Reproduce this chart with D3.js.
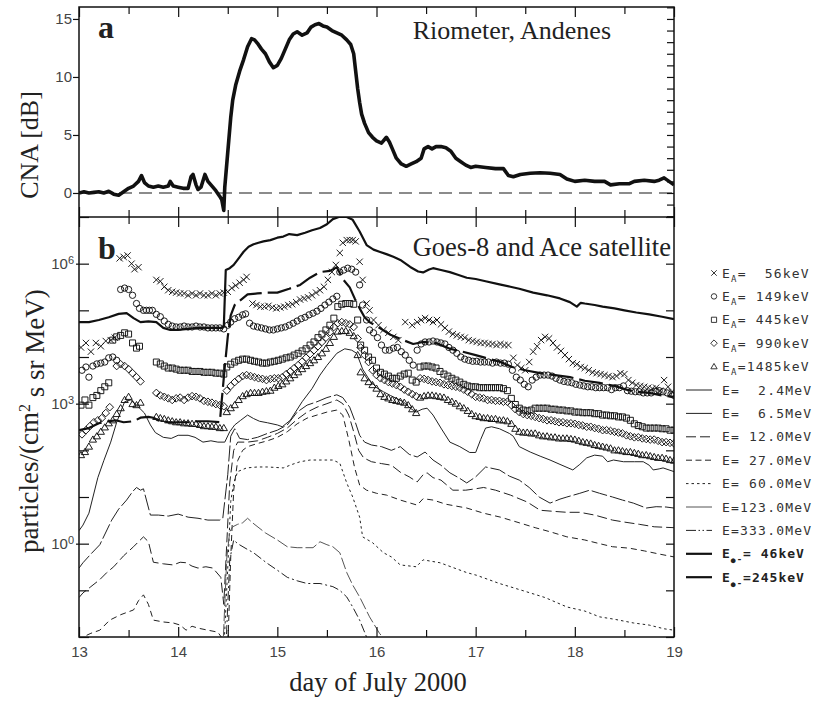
<!DOCTYPE html>
<html><head><meta charset="utf-8">
<script src="https://cdn.jsdelivr.net/npm/d3@7"></script>
<style>body{margin:0;background:#fff}text{white-space:pre}</style>
</head><body>
<svg id="c" width="817" height="706"></svg>
<script>
// ---------------- DATA ----------------
const dayTicks = [13, 14, 15, 16, 17, 18, 19];
const halfDayTicks = [13.5, 14.5, 15.5, 16.5, 17.5, 18.5];
const cnaTicks = [0, 5, 10, 15];
const cnaMinorTicks = [-2,-1,0,1,2,3,4,5,6,7,8,9,10,11,12,13,14,15,16];
const fluxLabelTicks = [1e0, 1e3, 1e6];
const fluxDecadeTicks = [1e-2,1e-1,1e0,1e1,1e2,1e3,1e4,1e5,1e6,1e7];

// Riometer CNA [dB], Andenes: [day, dB]
const cna = [[13.0,0.0],[13.05,0.1],[13.1,0.0],[13.15,0.05],[13.2,0.1],[13.25,0.0],[13.3,0.15],[13.35,-0.1],[13.4,-0.2],[13.45,0.1],[13.5,0.4],[13.55,0.6],[13.6,1.0],[13.63,1.5],[13.66,0.9],[13.7,0.6],[13.75,0.5],[13.8,0.6],[13.85,0.5],[13.9,0.6],[13.92,1.0],[13.95,0.6],[14.0,0.5],[14.05,0.4],[14.1,0.4],[14.13,1.4],[14.15,1.6],[14.18,0.7],[14.2,0.3],[14.23,0.5],[14.27,1.6],[14.3,1.0],[14.35,0.5],[14.38,0.2],[14.42,-0.3],[14.44,-0.6],[14.46,-1.5],[14.47,0.5],[14.49,2.5],[14.51,4.5],[14.53,6.5],[14.55,8.0],[14.58,9.3],[14.62,10.5],[14.66,11.5],[14.7,12.6],[14.74,13.3],[14.77,13.2],[14.8,12.9],[14.84,12.4],[14.88,12.0],[14.92,11.3],[14.96,10.8],[15.0,11.0],[15.04,11.6],[15.08,12.4],[15.12,13.2],[15.16,13.7],[15.2,13.9],[15.25,13.6],[15.3,13.8],[15.34,14.3],[15.38,14.5],[15.42,14.6],[15.46,14.4],[15.5,14.3],[15.55,14.0],[15.6,13.8],[15.65,13.6],[15.7,13.2],[15.74,12.8],[15.77,12.0],[15.79,10.5],[15.81,9.0],[15.83,7.8],[15.85,6.8],[15.88,6.0],[15.92,5.2],[15.96,4.8],[16.0,4.5],[16.05,4.3],[16.1,4.8],[16.13,4.4],[16.16,3.8],[16.2,3.0],[16.25,2.5],[16.3,2.3],[16.35,2.5],[16.4,2.7],[16.45,3.0],[16.48,3.8],[16.52,4.0],[16.56,3.8],[16.6,4.0],[16.65,4.0],[16.7,3.9],[16.75,3.6],[16.8,3.0],[16.85,2.7],[16.9,2.4],[16.95,2.2],[17.0,2.3],[17.1,2.2],[17.2,2.1],[17.28,2.1],[17.33,1.5],[17.38,1.4],[17.45,1.6],[17.55,1.7],[17.65,1.75],[17.75,1.7],[17.85,1.6],[17.92,1.2],[18.0,1.0],[18.1,1.1],[18.2,1.0],[18.3,1.0],[18.36,0.7],[18.45,0.8],[18.55,0.8],[18.6,1.0],[18.7,1.1],[18.8,1.0],[18.85,1.1],[18.9,1.3],[18.95,1.0],[19.0,0.7]];

// ACE ions, particles/(cm2 s sr MeV): [day, flux]
const ionA56 = [[13.02,1.6e4],[13.07,2.0e4],[13.12,1.3e4],[13.17,2.0e4],[13.22,1.7e4],[13.27,2.2e4],[13.32,2.3e4],[13.36,2.6e4],[13.41,1.3e6],[13.45,1.4e6],[13.49,1.5e6],[13.53,1.0e6],[13.56,7.6e5],[13.6,8.4e5],[13.78,4.5e5],[13.82,4.2e5],[13.86,3.2e5],[13.9,2.7e5],[13.94,2.5e5],[13.98,2.4e5],[14.02,2.3e5],[14.06,2.3e5],[14.1,2.1e5],[14.14,2.3e5],[14.18,2.1e5],[14.22,2.3e5],[14.26,2.1e5],[14.3,2.1e5],[14.34,2.3e5],[14.38,2.1e5],[14.42,2.3e5],[14.46,2.4e5],[14.5,2.5e5],[14.54,3.0e5],[14.58,3.4e5],[14.62,3.9e5],[14.66,4.5e5],[14.69,5.2e5],[14.75,1.4e5],[14.79,1.3e5],[14.83,1.2e5],[14.87,1.2e5],[14.91,1.25e5],[14.95,1.15e5],[14.99,1.1e5],[15.03,1.15e5],[15.07,1.2e5],[15.11,1.3e5],[15.15,1.35e5],[15.19,1.5e5],[15.23,1.7e5],[15.27,1.8e5],[15.31,1.9e5],[15.35,2.1e5],[15.39,2.4e5],[15.43,2.7e5],[15.47,3.2e5],[15.51,4.5e5],[15.55,6.6e5],[15.59,9.4e5],[15.63,1.7e6],[15.66,2.8e6],[15.7,3.2e6],[15.73,3.2e6],[15.76,3.2e6],[15.79,3.0e6],[15.83,1.1e6],[15.86,4.5e5],[15.9,1.4e5],[15.93,1.0e5],[15.97,6.2e4],[16.02,4.8e4],[16.07,3.8e4],[16.12,3.3e4],[16.17,2.7e4],[16.22,2.3e4],[16.29,5.6e4],[16.36,4.8e4],[16.41,5.6e4],[16.45,6.2e4],[16.49,6.8e4],[16.53,6.2e4],[16.57,5.6e4],[16.61,6.2e4],[16.65,5.0e4],[16.69,4.2e4],[16.73,3.5e4],[16.77,3.1e4],[16.81,2.9e4],[16.85,2.7e4],[16.89,2.6e4],[16.93,2.3e4],[16.97,2.2e4],[17.01,2.1e4],[17.05,2.0e4],[17.09,2.0e4],[17.13,1.9e4],[17.17,1.9e4],[17.21,1.8e4],[17.25,1.9e4],[17.29,1.8e4],[17.33,1.8e4],[17.38,9.6e3],[17.42,6.7e3],[17.46,5.8e3],[17.5,5.2e3],[17.54,7.8e3],[17.58,1.3e4],[17.62,1.7e4],[17.66,2.3e4],[17.7,2.7e4],[17.74,2.5e4],[17.78,2.0e4],[17.82,1.6e4],[17.86,1.35e4],[17.9,1.1e4],[17.94,9.0e3],[17.98,7.4e3],[18.02,7.0e3],[18.06,6.1e3],[18.1,5.8e3],[18.14,5.2e3],[18.18,4.7e3],[18.22,4.5e3],[18.26,4.3e3],[18.3,4.1e3],[18.34,3.9e3],[18.38,3.7e3],[18.42,3.9e3],[18.46,4.5e3],[18.5,4.3e3],[18.54,3.2e3],[18.58,2.8e3],[18.62,2.5e3],[18.66,2.4e3],[18.7,2.3e3],[18.74,2.2e3],[18.78,2.1e3],[18.82,2.2e3],[18.86,1.9e3],[18.9,3.2e3],[18.94,2.3e3],[18.98,1.8e3]];

const ionA149 = [[13.03,5.2e3],[13.07,6.1e3],[13.1,3.7e3],[13.14,6.4e3],[13.18,7.1e3],[13.22,7.4e3],[13.26,7.8e3],[13.3,9.6e3],[13.34,1.0e4],[13.38,8.5e3],[13.42,2.8e5],[13.46,3.0e5],[13.5,2.8e5],[13.54,2.1e5],[13.58,1.4e5],[13.61,1.1e5],[13.65,1.0e5],[13.68,1.0e5],[13.71,1.0e5],[13.74,1.0e5],[13.78,8.2e4],[13.82,7.3e4],[13.86,5.9e4],[13.9,5.0e4],[13.94,4.6e4],[13.98,4.4e4],[14.02,4.4e4],[14.06,4.6e4],[14.1,4.4e4],[14.14,4.4e4],[14.18,4.6e4],[14.22,4.4e4],[14.26,4.4e4],[14.3,4.2e4],[14.34,4.2e4],[14.38,4.2e4],[14.42,4.2e4],[14.46,4.0e4],[14.5,4.8e4],[14.53,5.6e4],[14.57,6.6e4],[14.61,7.1e4],[14.65,8.0e4],[14.68,8.4e4],[14.72,5.3e4],[14.76,4.6e4],[14.8,4.4e4],[14.84,4.2e4],[14.88,4.0e4],[14.92,3.8e4],[14.96,3.8e4],[15.0,4.0e4],[15.04,4.2e4],[15.08,4.4e4],[15.12,4.8e4],[15.16,5.3e4],[15.2,5.9e4],[15.24,6.6e4],[15.28,7.1e4],[15.32,8.0e4],[15.36,8.7e4],[15.4,9.6e4],[15.44,1.1e5],[15.48,1.3e5],[15.52,1.5e5],[15.56,1.75e5],[15.6,2.0e5],[15.63,6.6e5],[15.67,7.3e5],[15.71,8.0e5],[15.75,7.6e5],[15.79,6.6e5],[15.83,3.5e5],[15.86,1.3e5],[15.9,6.2e4],[15.93,3.8e4],[15.97,3.3e4],[16.01,2.6e4],[16.05,1.8e4],[16.09,1.4e4],[16.13,1.4e4],[16.17,1.55e4],[16.21,1.6e4],[16.25,1.3e4],[16.29,1.1e4],[16.33,8.5e3],[16.37,6.7e3],[16.41,1.4e4],[16.45,1.9e4],[16.49,2.1e4],[16.53,2.1e4],[16.57,2.2e4],[16.61,2.1e4],[16.65,2.0e4],[16.69,1.9e4],[16.73,1.6e4],[16.77,1.4e4],[16.81,1.2e4],[16.85,1.0e4],[16.89,9.0e3],[16.93,8.5e3],[16.97,8.1e3],[17.01,8.1e3],[17.05,7.8e3],[17.09,7.8e3],[17.13,7.8e3],[17.17,7.4e3],[17.21,7.8e3],[17.25,7.4e3],[17.29,7.4e3],[17.33,7.0e3],[17.37,5.2e3],[17.41,3.7e3],[17.45,3.2e3],[17.49,2.6e3],[17.53,2.3e3],[17.57,3.2e3],[17.61,3.7e3],[17.65,4.1e3],[17.69,4.1e3],[17.73,4.1e3],[17.77,3.9e3],[17.81,3.5e3],[17.85,3.2e3],[17.89,3.0e3],[17.93,2.9e3],[17.97,2.8e3],[18.01,2.6e3],[18.05,2.5e3],[18.09,2.4e3],[18.13,2.3e3],[18.17,2.3e3],[18.21,2.2e3],[18.25,2.2e3],[18.29,2.2e3],[18.33,2.2e3],[18.37,2.0e3],[18.41,2.2e3],[18.45,2.2e3],[18.49,2.4e3],[18.53,1.9e3],[18.57,1.85e3],[18.61,1.8e3],[18.65,1.8e3],[18.69,1.7e3],[18.73,1.7e3],[18.77,1.7e3],[18.81,1.85e3],[18.85,1.9e3],[18.89,1.8e3],[18.93,1.7e3],[18.97,1.6e3],[19.0,1.5e3]];

const ionA445 = [[13.02,9.3e2],[13.06,1.2e3],[13.1,9.3e2],[13.14,1.35e3],[13.18,1.5e3],[13.22,1.9e3],[13.26,2.3e3],[13.3,2.8e3],[13.34,2.3e4],[13.38,2.7e4],[13.42,2.9e4],[13.46,3.3e4],[13.5,3.1e4],[13.54,2.0e4],[13.58,1.55e4],[13.61,1.7e4],[13.78,7.8e3],[13.82,7.1e3],[13.86,6.4e3],[13.9,5.8e3],[13.94,5.8e3],[13.98,5.5e3],[14.02,5.2e3],[14.06,5.2e3],[14.1,5.2e3],[14.14,4.9e3],[14.18,4.9e3],[14.22,4.9e3],[14.26,4.7e3],[14.3,4.7e3],[14.34,4.7e3],[14.38,4.5e3],[14.42,4.5e3],[14.46,4.3e3],[14.49,6.1e3],[14.53,7.0e3],[14.57,7.8e3],[14.61,8.5e3],[14.65,9.0e3],[14.69,9.0e3],[14.73,8.5e3],[14.77,8.1e3],[14.81,7.8e3],[14.85,7.4e3],[14.89,7.4e3],[14.93,7.8e3],[14.97,8.1e3],[15.01,8.5e3],[15.05,9.0e3],[15.09,9.6e3],[15.13,1.0e4],[15.17,1.1e4],[15.21,1.2e4],[15.25,1.35e4],[15.29,1.5e4],[15.33,1.8e4],[15.37,2.1e4],[15.41,2.6e4],[15.45,3.1e4],[15.49,3.8e4],[15.53,4.8e4],[15.57,6.8e4],[15.61,1.2e5],[15.65,1.35e5],[15.69,1.4e5],[15.73,1.4e5],[15.77,1.35e5],[15.81,6.2e4],[15.84,1.8e4],[15.88,1.4e4],[15.92,1.0e4],[15.96,8.5e3],[16.0,5.8e3],[16.04,4.7e3],[16.08,4.3e3],[16.12,3.9e3],[16.16,3.5e3],[16.2,3.5e3],[16.24,3.9e3],[16.28,4.3e3],[16.32,4.5e3],[16.36,3.2e3],[16.4,2.9e3],[16.44,6.1e3],[16.48,6.4e3],[16.52,6.4e3],[16.56,6.1e3],[16.6,5.8e3],[16.64,4.9e3],[16.68,4.3e3],[16.72,3.9e3],[16.76,3.5e3],[16.8,3.2e3],[16.84,2.9e3],[16.88,2.6e3],[16.92,2.4e3],[16.96,2.3e3],[17.0,2.3e3],[17.04,2.2e3],[17.08,2.2e3],[17.12,2.2e3],[17.16,2.2e3],[17.2,2.2e3],[17.24,2.2e3],[17.28,2.1e3],[17.32,1.9e3],[17.36,1.3e3],[17.4,9.6e2],[17.44,8.0e2],[17.48,7.3e2],[17.52,7.0e2],[17.56,7.3e2],[17.6,8.0e2],[17.64,8.0e2],[17.68,8.0e2],[17.72,8.0e2],[17.76,7.6e2],[17.8,7.6e2],[17.84,7.3e2],[17.88,7.3e2],[17.92,7.0e2],[17.96,7.0e2],[18.0,6.6e2],[18.04,6.6e2],[18.08,6.4e2],[18.12,6.4e2],[18.16,6.4e2],[18.2,6.1e2],[18.24,6.1e2],[18.28,5.7e2],[18.32,5.7e2],[18.36,5.5e2],[18.4,5.5e2],[18.44,5.2e2],[18.48,5.2e2],[18.52,4.9e2],[18.56,4.4e2],[18.6,3.7e2],[18.64,3.4e2],[18.68,3.2e2],[18.72,3.0e2],[18.76,3.0e2],[18.8,3.0e2],[18.84,3.0e2],[18.88,2.9e2],[18.92,2.9e2],[18.96,2.7e2],[19.0,2.7e2]];

const ionA990 = [[13.03,2.2e2],[13.07,2.7e2],[13.11,3.3e2],[13.15,4.0e2],[13.19,4.4e2],[13.23,4.9e2],[13.27,6.3e2],[13.31,8.4e2],[13.38,6.4e3],[13.42,7.0e3],[13.46,6.4e3],[13.5,5.5e3],[13.54,4.5e3],[13.58,3.7e3],[13.62,3.0e3],[13.78,1.7e3],[13.82,1.5e3],[13.86,1.4e3],[13.9,1.3e3],[13.94,1.2e3],[13.98,1.3e3],[14.02,1.35e3],[14.06,1.2e3],[14.1,1.35e3],[14.14,1.45e3],[14.18,1.4e3],[14.22,1.3e3],[14.26,1.15e3],[14.3,1.1e3],[14.34,1.05e3],[14.38,9.8e2],[14.42,9.3e2],[14.46,8.8e2],[14.49,1.9e3],[14.53,2.4e3],[14.57,2.9e3],[14.61,3.4e3],[14.65,3.9e3],[14.69,4.1e3],[14.73,3.9e3],[14.77,3.7e3],[14.81,3.5e3],[14.85,3.4e3],[14.89,3.2e3],[14.93,3.4e3],[14.97,3.5e3],[15.01,3.5e3],[15.05,3.7e3],[15.09,4.3e3],[15.13,4.9e3],[15.17,5.8e3],[15.21,6.7e3],[15.25,8.0e3],[15.29,9.6e3],[15.33,1.15e4],[15.37,1.4e4],[15.41,1.7e4],[15.45,2.1e4],[15.49,2.6e4],[15.53,3.4e4],[15.57,4.4e4],[15.61,5.3e4],[15.65,5.6e4],[15.69,5.3e4],[15.73,5.0e4],[15.77,4.4e4],[15.81,2.5e4],[15.84,1.6e4],[15.88,1.1e4],[15.92,7.8e3],[15.96,5.2e3],[16.0,4.1e3],[16.04,3.5e3],[16.08,3.2e3],[16.12,2.9e3],[16.16,2.7e3],[16.2,2.5e3],[16.24,2.3e3],[16.28,2.0e3],[16.32,1.8e3],[16.36,1.6e3],[16.4,1.45e3],[16.44,3.5e3],[16.48,3.4e3],[16.52,3.2e3],[16.56,3.0e3],[16.6,2.9e3],[16.64,2.8e3],[16.68,2.6e3],[16.72,2.5e3],[16.76,2.4e3],[16.8,2.3e3],[16.84,2.2e3],[16.88,2.0e3],[16.92,1.8e3],[16.96,1.6e3],[17.0,1.4e3],[17.04,1.35e3],[17.08,1.3e3],[17.12,1.2e3],[17.16,1.2e3],[17.2,1.15e3],[17.24,1.15e3],[17.28,1.1e3],[17.32,1.1e3],[17.36,9.3e2],[17.4,7.6e2],[17.44,6.6e2],[17.48,6.0e2],[17.52,5.7e2],[17.56,5.5e2],[17.6,5.2e2],[17.64,4.9e2],[17.68,4.7e2],[17.72,4.4e2],[17.76,4.4e2],[17.8,4.2e2],[17.84,4.0e2],[17.88,4.0e2],[17.92,3.8e2],[17.96,3.8e2],[18.0,3.7e2],[18.04,3.5e2],[18.08,3.4e2],[18.12,3.2e2],[18.16,3.2e2],[18.2,3.0e2],[18.24,2.9e2],[18.28,2.7e2],[18.32,2.7e2],[18.36,2.6e2],[18.4,2.5e2],[18.44,2.4e2],[18.48,2.3e2],[18.52,2.1e2],[18.56,2.0e2],[18.6,1.9e2],[18.64,1.9e2],[18.68,1.8e2],[18.72,1.75e2],[18.76,1.7e2],[18.8,1.7e2],[18.84,1.6e2],[18.88,1.5e2],[18.92,1.5e2],[18.96,1.45e2],[19.0,1.4e2]];

const ionA1485 = [[13.02,7.9e1],[13.06,9.2e1],[13.1,1.2e2],[13.14,1.7e2],[13.18,2.0e2],[13.22,2.5e2],[13.26,3.1e2],[13.3,3.8e2],[13.34,4.4e2],[13.38,6.0e2],[13.42,8.0e2],[13.46,1.2e3],[13.5,1.4e3],[13.54,9.8e2],[13.58,9.3e2],[13.62,1.05e3],[13.78,5.2e2],[13.82,4.9e2],[13.86,4.7e2],[13.9,4.4e2],[13.94,4.2e2],[13.98,4.0e2],[14.02,4.0e2],[14.06,3.8e2],[14.1,3.8e2],[14.14,3.7e2],[14.18,3.7e2],[14.22,3.5e2],[14.26,3.3e2],[14.3,3.3e2],[14.34,3.2e2],[14.38,3.2e2],[14.42,3.0e2],[14.46,3.0e2],[14.49,6.6e2],[14.53,8.0e2],[14.57,9.3e2],[14.61,1.2e3],[14.65,1.45e3],[14.69,1.6e3],[14.73,1.7e3],[14.77,1.7e3],[14.81,1.7e3],[14.85,1.8e3],[14.89,1.85e3],[14.93,1.9e3],[14.97,2.2e3],[15.01,2.4e3],[15.05,2.6e3],[15.09,3.0e3],[15.13,3.5e3],[15.17,4.1e3],[15.21,4.7e3],[15.25,5.5e3],[15.29,6.4e3],[15.33,7.4e3],[15.37,8.5e3],[15.41,1.0e4],[15.45,1.2e4],[15.49,1.5e4],[15.53,2.0e4],[15.57,2.7e4],[15.61,3.5e4],[15.65,3.6e4],[15.69,3.6e4],[15.73,3.3e4],[15.77,2.8e4],[15.81,1.1e4],[15.84,4.7e3],[15.88,3.5e3],[15.92,2.9e3],[15.96,2.5e3],[16.0,2.1e3],[16.04,1.6e3],[16.08,1.4e3],[16.12,1.3e3],[16.16,1.2e3],[16.2,1.15e3],[16.24,1.1e3],[16.28,1.05e3],[16.32,9.3e2],[16.36,7.6e2],[16.4,6.3e2],[16.44,1.35e3],[16.48,1.45e3],[16.52,1.5e3],[16.56,1.5e3],[16.6,1.45e3],[16.64,1.4e3],[16.68,1.35e3],[16.72,1.2e3],[16.76,1.1e3],[16.8,1.0e3],[16.84,8.8e2],[16.88,8.0e2],[16.92,7.0e2],[16.96,6.0e2],[17.0,5.4e2],[17.04,5.2e2],[17.08,4.9e2],[17.12,4.9e2],[17.16,4.7e2],[17.2,4.7e2],[17.24,4.4e2],[17.28,4.4e2],[17.32,4.2e2],[17.36,3.7e2],[17.4,2.9e2],[17.44,2.5e2],[17.48,2.4e2],[17.52,2.4e2],[17.56,2.3e2],[17.6,2.3e2],[17.64,2.1e2],[17.68,2.0e2],[17.72,2.0e2],[17.76,1.9e2],[17.8,1.9e2],[17.84,1.8e2],[17.88,1.8e2],[17.92,1.8e2],[17.96,1.75e2],[18.0,1.7e2],[18.04,1.6e2],[18.08,1.5e2],[18.12,1.45e2],[18.16,1.4e2],[18.2,1.3e2],[18.24,1.25e2],[18.28,1.2e2],[18.32,1.15e2],[18.36,1.1e2],[18.4,1.0e2],[18.44,1.0e2],[18.48,9.6e1],[18.52,9.2e1],[18.56,9.2e1],[18.6,8.8e1],[18.64,8.4e1],[18.68,7.9e1],[18.72,7.9e1],[18.76,7.5e1],[18.8,7.2e1],[18.84,6.9e1],[18.88,6.9e1],[18.92,6.6e1],[18.96,6.2e1],[19.0,6.0e1]];

// GOES-8 protons
const protE2_4 = [[13.0,1.9],[13.04,2.5],[13.1,4.5],[13.19,2.6e1],[13.25,6.0e1],[13.32,1.5e2],[13.38,4.0e2],[13.46,1.1e3],[13.52,1.2e3],[13.58,9.3e2],[13.66,6.3e2],[13.72,3.5e2],[13.77,2.4e2],[13.85,1.9e2],[13.93,1.8e2],[14.0,2.1e2],[14.1,2.1e2],[14.17,1.9e2],[14.25,1.5e2],[14.33,1.6e2],[14.4,1.5e2],[14.47,1.5e2],[14.52,2.5e2],[14.57,3.5e2],[14.63,4.4e2],[14.7,5.7e2],[14.76,4.8e2],[14.82,4.2e2],[14.9,3.9e2],[15.0,3.5e2],[15.05,3.2e2],[15.13,4.4e2],[15.25,1.1e3],[15.35,2.1e3],[15.43,4.1e3],[15.5,6.6e3],[15.6,1.2e4],[15.68,1.5e4],[15.75,1.4e4],[15.8,1.2e4],[15.86,5.5e3],[15.93,3.2e3],[16.0,2.2e3],[16.07,1.8e3],[16.14,1.5e3],[16.2,1.3e3],[16.27,1.1e3],[16.34,8.0e2],[16.4,6.6e2],[16.46,7.6e2],[16.51,8.0e2],[16.57,5.7e2],[16.65,3.0e2],[16.74,1.5e2],[16.84,1.2e2],[16.94,9.0e1],[17.0,9.0e1],[17.05,1.7e2],[17.1,3.0e2],[17.16,3.2e2],[17.24,2.9e2],[17.34,2.3e2],[17.38,2.0e2],[17.44,1.2e2],[17.55,9.2e1],[17.65,7.5e1],[17.75,6.2e1],[17.85,5.0e1],[17.98,3.8e1],[18.05,5.0e1],[18.12,6.9e1],[18.2,7.9e1],[18.28,7.5e1],[18.33,5.7e1],[18.39,6.2e1],[18.49,5.7e1],[18.6,5.7e1],[18.69,5.7e1],[18.75,4.8e1],[18.79,3.8e1],[18.85,4.0e1],[18.89,4.2e1],[18.95,3.8e1],[19.0,3.5e1]];

const protE6_5 = [[13.0,0.3],[13.04,0.39],[13.12,0.6],[13.21,0.95],[13.33,3.2],[13.4,5.5],[13.48,8.6],[13.54,1.3e1],[13.58,1.6e1],[13.62,1.4e1],[13.65,1.5e1],[13.72,4.1],[13.8,4.1],[13.9,3.9],[14.0,4.3],[14.1,3.7],[14.2,3.5],[14.3,3.2],[14.42,3.2],[14.45,3.5],[14.5,3.0e1],[14.53,2.0e2],[14.57,2.9e2],[14.62,1.8e2],[14.7,1.7e2],[14.8,1.9e2],[14.9,2.3e2],[15.0,2.7e2],[15.1,3.5e2],[15.2,6.6e2],[15.3,9.3e2],[15.4,1.1e3],[15.5,1.35e3],[15.6,1.55e3],[15.66,1.35e3],[15.73,8.4e2],[15.78,4.4e2],[15.83,2.1e2],[15.88,1.5e2],[15.95,1.3e2],[16.05,1.2e2],[16.15,1.0e2],[16.24,1.2e2],[16.33,8.2e1],[16.41,7.2e1],[16.49,9.2e1],[16.57,6.2e1],[16.65,4.8e1],[16.74,3.3e1],[16.84,2.5e1],[16.91,2.0e1],[17.0,2.7e1],[17.1,4.4e1],[17.24,3.8e1],[17.34,2.8e1],[17.44,2.3e1],[17.54,1.6e1],[17.64,1.0e1],[17.75,7.4],[17.85,9.0],[17.92,1.0e1],[18.05,1.2e1],[18.15,1.4e1],[18.25,1.2e1],[18.38,1.0e1],[18.48,8.6],[18.59,7.4],[18.72,5.8],[18.82,6.2],[18.92,6.1],[19.0,5.8]];

const protE12 = [[13.0,0.07],[13.04,0.088],[13.12,0.12],[13.21,0.17],[13.28,0.24],[13.35,0.32],[13.45,0.55],[13.55,0.86],[13.6,1.1],[13.65,1.4],[13.7,1.1],[13.75,0.4],[13.85,0.37],[13.95,0.35],[14.02,0.4],[14.08,0.39],[14.14,0.33],[14.2,0.3],[14.28,0.32],[14.35,0.3],[14.43,0.19],[14.46,0.05],[14.49,1.0],[14.52,2.0e1],[14.56,1.0e2],[14.6,1.5e2],[14.7,1.5e2],[14.8,1.6e2],[14.9,1.9e2],[15.0,2.3e2],[15.1,3.0e2],[15.2,4.6e2],[15.3,6.6e2],[15.4,8.4e2],[15.5,1.0e3],[15.6,1.2e3],[15.66,1.0e3],[15.72,5.7e2],[15.77,2.5e2],[15.82,1.0e2],[15.87,6.9e1],[15.95,5.7e1],[16.05,5.2e1],[16.15,4.8e1],[16.24,3.4e1],[16.33,2.7e1],[16.41,2.1e1],[16.47,3.0e1],[16.51,3.3e1],[16.57,2.6e1],[16.65,2.3e1],[16.77,1.4e1],[16.9,1.4e1],[17.0,1.5e1],[17.08,1.6e1],[17.2,1.4e1],[17.35,1.1e1],[17.52,7.8],[17.65,5.2],[17.8,4.9],[17.92,4.7],[18.05,4.7],[18.2,4.1],[18.38,3.2],[18.5,2.9],[18.65,2.6],[18.8,2.3],[19.0,2.2]];

const protE27 = [[13.0,0.008],[13.04,0.01],[13.12,0.012],[13.21,0.014],[13.31,0.023],[13.42,0.03],[13.55,0.038],[13.6,0.06],[13.65,0.08],[13.7,0.05],[13.75,0.023],[13.85,0.021],[13.95,0.02],[14.02,0.018],[14.08,0.014],[14.14,0.017],[14.2,0.0155],[14.3,0.014],[14.4,0.0127],[14.45,0.009],[14.5,0.005],[14.53,0.5],[14.56,1.4e1],[14.6,6.0e1],[14.65,1.0e2],[14.7,1.2e2],[14.8,1.4e2],[14.9,1.6e2],[15.0,1.9e2],[15.1,2.5e2],[15.2,3.7e2],[15.3,4.9e2],[15.4,5.7e2],[15.5,6.6e2],[15.6,7.3e2],[15.66,5.7e2],[15.72,1.7e2],[15.78,4.2e1],[15.83,1.8e1],[15.9,1.4e1],[16.0,1.2e1],[16.1,1.1e1],[16.24,8.6],[16.41,6.7],[16.47,9.2],[16.57,8.6],[16.7,7.0],[16.91,5.8],[17.08,4.5],[17.25,3.7],[17.44,2.8],[17.6,2.2],[17.75,1.8],[17.92,1.4],[18.1,1.2],[18.25,1.0],[18.38,0.86],[18.55,0.8],[18.7,0.7],[18.85,0.6],[19.0,0.52]];

const protE60 = [[14.46,0.005],[14.5,0.3],[14.53,8.0],[14.56,2.0e1],[14.6,3.5e1],[14.69,4.2e1],[14.8,4.4e1],[14.9,4.4e1],[15.06,4.2e1],[15.15,5.0e1],[15.23,5.7e1],[15.33,6.2e1],[15.43,6.2e1],[15.5,6.2e1],[15.56,6.2e1],[15.63,5.3e1],[15.7,2.0e1],[15.76,1.0e1],[15.83,3.7],[15.86,1.4],[15.96,1.05],[16.07,0.64],[16.15,0.52],[16.24,0.35],[16.4,0.32],[16.47,0.45],[16.64,0.39],[16.91,0.24],[17.01,0.21],[17.24,0.14],[17.5,0.095],[17.7,0.07],[17.92,0.044],[18.1,0.036],[18.25,0.027],[18.4,0.024],[18.59,0.02],[18.75,0.018],[18.9,0.015],[19.0,0.014]];

const protE123 = [[14.45,0.005],[14.49,0.5],[14.52,1.8],[14.55,2.3],[14.6,2.6],[14.65,2.8],[14.7,3.5],[14.75,2.8],[14.88,1.7],[15.0,1.2],[15.1,0.86],[15.2,0.82],[15.36,0.82],[15.43,1.1],[15.5,0.95],[15.56,0.86],[15.63,0.64],[15.7,0.24],[15.76,0.13],[15.83,0.072],[15.93,0.027],[16.03,0.012],[16.1,0.008]];

const protE333 = [[14.48,0.005],[14.52,0.45],[14.56,1.2],[14.6,1.0],[14.7,0.75],[14.76,0.64],[14.89,0.39],[15.0,0.27],[15.1,0.19],[15.2,0.16],[15.3,0.14],[15.43,0.14],[15.56,0.12],[15.63,0.1],[15.7,0.072],[15.76,0.044],[15.83,0.023],[15.9,0.010],[15.95,0.007]];

// ACE electrons
const elec46 = [[13.0,5.6e4],[13.1,5.6e4],[13.2,6.2e4],[13.3,7.1e4],[13.4,8.4e4],[13.48,8.7e4],[13.55,6.8e4],[13.62,5.6e4],[13.7,5.8e4],[13.78,5.6e4],[13.85,4.2e4],[13.92,3.8e4],[14.0,3.8e4],[14.1,4.0e4],[14.2,4.2e4],[14.3,4.2e4],[14.44,4.2e4],[14.46,4.4e4],[14.48,7.3e5],[14.52,8.0e5],[14.56,9.4e5],[14.61,1.3e6],[14.66,1.8e6],[14.71,2.3e6],[14.76,2.6e6],[14.81,2.8e6],[14.86,3.0e6],[14.93,3.2e6],[15.0,3.6e6],[15.06,3.8e6],[15.12,4.3e6],[15.2,4.1e6],[15.28,4.6e6],[15.35,5.2e6],[15.43,5.8e6],[15.5,7.0e6],[15.56,9.0e6],[15.62,1.0e7],[15.7,1.0e7],[15.76,8.7e6],[15.83,4.9e6],[15.9,2.5e6],[15.97,2.0e6],[16.03,1.8e6],[16.1,1.6e6],[16.17,1.4e6],[16.24,1.2e6],[16.34,8.5e5],[16.42,6.8e5],[16.47,6.5e5],[16.53,7.5e5],[16.57,8.0e5],[16.65,7.3e5],[16.74,6.6e5],[16.82,5.8e5],[16.91,5.0e5],[17.0,4.7e5],[17.1,4.2e5],[17.24,3.6e5],[17.35,3.2e5],[17.44,2.9e5],[17.58,2.4e5],[17.72,2.1e5],[17.85,1.8e5],[17.95,1.5e5],[18.02,1.2e5],[18.06,1.45e5],[18.1,1.4e5],[18.2,1.3e5],[18.28,1.2e5],[18.4,1.1e5],[18.5,1.0e5],[18.62,9.0e4],[18.75,8.2e4],[18.88,7.3e4],[19.0,6.5e4]];

const elec245 = [[13.0,2.7e2],[13.1,3.0e2],[13.2,3.8e2],[13.3,4.2e2],[13.37,4.4e2],[13.45,4.0e2],[13.55,4.2e2],[13.62,5.0e2],[13.7,5.2e2],[13.75,5.0e2],[13.8,4.4e2],[13.9,4.0e2],[14.0,4.0e2],[14.1,4.0e2],[14.2,4.2e2],[14.3,4.2e2],[14.42,4.0e2],[14.44,1.2e3],[14.47,6.1e3],[14.5,2.7e4],[14.53,7.8e4],[14.57,1.3e5],[14.62,1.6e5],[14.7,2.2e5],[14.8,2.3e5],[14.9,2.4e5],[15.0,2.4e5],[15.12,2.9e5],[15.23,3.5e5],[15.33,5.0e5],[15.43,6.6e5],[15.53,7.0e5],[15.6,8.4e5],[15.66,4.7e5],[15.73,3.1e5],[15.78,1.8e5],[15.83,1.1e5],[15.88,7.1e4],[15.93,5.6e4],[16.03,4.2e4],[16.14,3.0e4],[16.27,2.3e4],[16.37,1.9e4],[16.47,2.1e4],[16.6,2.0e4],[16.74,1.5e4],[16.87,1.3e4],[17.0,1.1e4],[17.1,9.6e3],[17.25,7.8e3],[17.37,6.1e3],[17.5,5.2e3],[17.65,4.5e3],[17.8,4.1e3],[17.95,3.7e3],[18.1,3.1e3],[18.25,2.8e3],[18.4,2.4e3],[18.52,2.0e3],[18.62,1.8e3],[18.75,1.7e3],[18.88,1.5e3],[19.0,1.4e3]];

// legend labels
const ionLabels = ['=  56keV', '= 149keV', '= 445keV', '= 990keV', '=1485keV'];
const protLabels = ['E=  2.4MeV', 'E=  6.5MeV', 'E= 12.0MeV', 'E= 27.0MeV', 'E= 60.0MeV', 'E=123.0MeV', 'E=333.0MeV'];
const elecLabels = ['= 46keV', '=245keV'];

// ---------------- DRAWING ----------------
const L = 79, R = 674, TA = 7, MID = 217, BB = 637;
const svg = d3.select('#c');
const x = d3.scaleLinear().domain([13, 19]).range([L, R]);
const ya = d3.scaleLinear().domain([-2.07, 16.03]).range([MID, TA]);
const yb = d3.scaleLog().domain([1e-2, 1e7]).range([BB, MID]);

const defs = svg.append('defs');
defs.append('clipPath').attr('id', 'ca').append('rect').attr('x', L).attr('y', TA).attr('width', R - L).attr('height', MID - TA);
defs.append('clipPath').attr('id', 'cb').append('rect').attr('x', L).attr('y', MID).attr('width', R - L).attr('height', BB - MID);

// symbol types
const symTimes = {draw(c, s) {const a = Math.sqrt(s) / 2; c.moveTo(-a, -a); c.lineTo(a, a); c.moveTo(-a, a); c.lineTo(a, -a);}};
const symCirc = {draw(c, s) {const r = Math.sqrt(s) / 2; c.moveTo(r, 0); c.arc(0, 0, r, 0, 2 * Math.PI);}};
const symSq = {draw(c, s) {const a = Math.sqrt(s) / 2 * 0.95; c.moveTo(-a, -a); c.lineTo(a, -a); c.lineTo(a, a); c.lineTo(-a, a); c.closePath();}};
const symDia = {draw(c, s) {const a = Math.sqrt(s) / 2 * 1.2; c.moveTo(0, -a); c.lineTo(a, 0); c.lineTo(0, a); c.lineTo(-a, 0); c.closePath();}};
const symTri = {draw(c, s) {const a = Math.sqrt(s) / 2 * 1.15; c.moveTo(0, -a); c.lineTo(a, a * 0.7); c.lineTo(-a, a * 0.7); c.closePath();}};

const ionSeries = [
  {data: ionA56, sym: symTimes}, {data: ionA149, sym: symCirc}, {data: ionA445, sym: symSq},
  {data: ionA990, sym: symDia}, {data: ionA1485, sym: symTri}];
const protSeries = [
  {data: protE2_4, dash: null, w: 1.0, c: '#222', leg: null},
  {data: protE6_5, dash: '16,3', w: 1.0, c: '#222', leg: null},
  {data: protE12, dash: '10,4', w: 1.0, c: '#222', leg: '10,4'},
  {data: protE27, dash: '6,4', w: 1.0, c: '#222', leg: '6,3.5'},
  {data: protE60, dash: '2.5,3', w: 1.0, c: '#222', leg: '2.5,3'},
  {data: protE123, dash: '12,3', w: 1.0, c: '#555', leg: null},
  {data: protE333, dash: '9,3,2,3', w: 1.0, c: '#222', leg: '10,2.5,1.5,2.5,1.5,2.5'}];
const elecSeries = [
  {data: elec46, dash: null, w: 2.2, c: '#111'},
  {data: elec245, dash: '24,6', w: 2.2, c: '#111'}];

// Panel a
const pa = svg.append('g').attr('clip-path', 'url(#ca)');
pa.append('line').attr('x1', x(13)).attr('x2', x(19)).attr('y1', ya(0)).attr('y2', ya(0))
  .attr('stroke', '#666').attr('stroke-width', 1.3).attr('stroke-dasharray', '13,7');
pa.append('path').datum(cna)
  .attr('d', d3.line().x(d => x(d[0])).y(d => ya(d[1])))
  .attr('fill', 'none').attr('stroke', '#111').attr('stroke-width', 3.6).attr('stroke-linejoin', 'round');

// Panel b
const pb = svg.append('g').attr('clip-path', 'url(#cb)');
const lineB = d3.line().x(d => x(d[0])).y(d => yb(d[1]));
protSeries.concat(elecSeries).forEach(s => {
  pb.append('path').datum(s.data).attr('d', lineB).attr('fill', 'none')
    .attr('stroke', s.c).attr('stroke-width', s.w).attr('stroke-dasharray', s.dash)
    .attr('stroke-linejoin', 'round');
});
ionSeries.forEach(s => {
  const gen = d3.symbol().type(s.sym).size(40);
  pb.append('g').selectAll('path').data(s.data).join('path')
    .attr('transform', d => `translate(${x(d[0])},${yb(d[1])})`)
    .attr('d', gen).attr('fill', 'none').attr('stroke', '#111').attr('stroke-width', 0.95);
});

// Axes
function styleAxis(g) {
  g.select('.domain').remove();
  g.selectAll('line').attr('stroke', '#111').attr('stroke-width', 1.2);
  g.selectAll('text').attr('fill', '#444').attr('font-family', 'Liberation Sans, Arial, sans-serif').attr('font-size', 15);
}
function addAxis(axis, tx, ty) {
  const g = svg.append('g').attr('transform', `translate(${tx},${ty})`).call(axis);
  styleAxis(g);
  return g;
}
[[MID, d3.axisBottom], [TA, d3.axisTop], [MID, d3.axisTop]].forEach(([yy, fn]) => {
  addAxis(fn(x).tickValues(dayTicks).tickSize(-10).tickFormat(''), 0, yy);
  addAxis(fn(x).tickValues(halfDayTicks).tickSize(-7).tickFormat(''), 0, yy);
});
addAxis(d3.axisBottom(x).tickValues(dayTicks).tickSize(-10).tickPadding(9).tickFormat(d3.format('d')), 0, BB);
addAxis(d3.axisBottom(x).tickValues(halfDayTicks).tickSize(-7).tickFormat(''), 0, BB);
addAxis(d3.axisLeft(ya).tickValues(cnaTicks).tickSize(6).tickPadding(1).tickFormat(d3.format('d')), L, 0);
addAxis(d3.axisRight(ya).tickValues(cnaMinorTicks).tickSize(-7).tickFormat(''), R, 0);
const lb = addAxis(d3.axisLeft(yb).tickValues(fluxLabelTicks).tickSize(3).tickPadding(2).tickFormat(''), L, 0);
lb.selectAll('.tick text').each(function(d) {
  const t = d3.select(this);
  t.append('tspan').text('10');
  t.append('tspan').attr('dy', '-0.45em').attr('font-size', 11).text(Math.round(Math.log10(d)));
});
addAxis(d3.axisLeft(yb).tickValues(fluxDecadeTicks).tickSize(-10).tickFormat(''), L, 0);
addAxis(d3.axisRight(yb).tickValues(fluxDecadeTicks).tickSize(-8).tickFormat(''), R, 0);

// frame
svg.append('rect').attr('x', L).attr('y', TA).attr('width', R - L).attr('height', BB - TA)
  .attr('fill', 'none').attr('stroke', '#111').attr('stroke-width', 1.5);
svg.append('line').attr('x1', L).attr('x2', R).attr('y1', MID).attr('y2', MID).attr('stroke', '#111').attr('stroke-width', 1.5);

// texts
const serif = 'Liberation Serif, Times New Roman, serif';
svg.append('text').attr('x', 98).attr('y', 38).attr('font-family', serif).attr('font-weight', 'bold').attr('font-size', 32).attr('fill', '#222').text('a');
svg.append('text').attr('x', 98).attr('y', 259).attr('font-family', serif).attr('font-weight', 'bold').attr('font-size', 32).attr('fill', '#222').text('b');
svg.append('text').attr('x', 611).attr('y', 39).attr('text-anchor', 'end').attr('font-family', serif).attr('font-size', 26).attr('fill', '#222').text('Riometer, Andenes');
svg.append('text').attr('x', 671).attr('y', 256).attr('text-anchor', 'end').attr('font-family', serif).attr('font-size', 26.5).attr('fill', '#222').text('Goes-8 and Ace satellite');
svg.append('text').attr('transform', 'translate(38,145) rotate(-90)').attr('text-anchor', 'middle')
  .attr('font-family', serif).attr('font-size', 26).attr('fill', '#222').text('CNA [dB]');
const yl = svg.append('text').attr('transform', 'translate(38,553) rotate(-90)').attr('text-anchor', 'start')
  .attr('font-family', serif).attr('font-size', 27).attr('fill', '#222');
yl.append('tspan').text('particles/(cm');
yl.append('tspan').attr('dy', '-0.5em').attr('font-size', 16).text('2');
yl.append('tspan').attr('dy', '0.5em').text(' s sr MeV)');
svg.append('text').attr('x', 378).attr('y', 691).attr('text-anchor', 'middle').attr('font-family', serif).attr('font-size', 26.5).attr('fill', '#222').text('day of July 2000');

// legend
const lg = svg.append('g');
const rowY = i => 273 + i * 23.4;
const mono = 'DejaVu Sans Mono, monospace';
ionSeries.forEach((s, i) => {
  const y0 = rowY(i);
  lg.append('path').attr('transform', `translate(714,${y0})`).attr('d', d3.symbol().type(s.sym).size(30))
    .attr('fill', 'none').attr('stroke', '#222').attr('stroke-width', 0.9);
  const t = lg.append('text').attr('x', 722).attr('y', y0 + 4.5).attr('font-family', mono).attr('font-size', 13)
    .attr('letter-spacing', 1.2).attr('fill', '#333');
  t.append('tspan').text('E');
  t.append('tspan').attr('dy', 4).attr('font-size', 9).text('A');
  t.append('tspan').attr('dy', -4).text(ionLabels[i]);
});
protSeries.forEach((s, i) => {
  const y0 = rowY(5 + i);
  lg.append('line').attr('x1', 686).attr('x2', 712).attr('y1', y0).attr('y2', y0)
    .attr('stroke', s.c).attr('stroke-width', s.w).attr('stroke-dasharray', s.leg);
  lg.append('text').attr('x', 722).attr('y', y0 + 4.5).attr('font-family', mono).attr('font-size', 13)
    .attr('letter-spacing', 1.2).attr('fill', '#333').text(protLabels[i]);
});
elecSeries.forEach((s, i) => {
  const y0 = rowY(12 + i);
  lg.append('line').attr('x1', 686).attr('x2', 712).attr('y1', y0).attr('y2', y0)
    .attr('stroke', s.c).attr('stroke-width', s.w);
  const t = lg.append('text').attr('x', 722).attr('y', y0 + 4.5).attr('font-family', mono).attr('font-size', 13)
    .attr('font-weight', 'bold').attr('letter-spacing', 1.0).attr('fill', '#222');
  t.append('tspan').text('E');
  t.append('tspan').attr('dy', 5).attr('font-size', 8).text('\u25CF');
  t.append('tspan').attr('dy', -1).attr('font-size', 9).text('-');
  t.append('tspan').attr('dy', -4).text(elecLabels[i]);
});
</script>
</body></html>
